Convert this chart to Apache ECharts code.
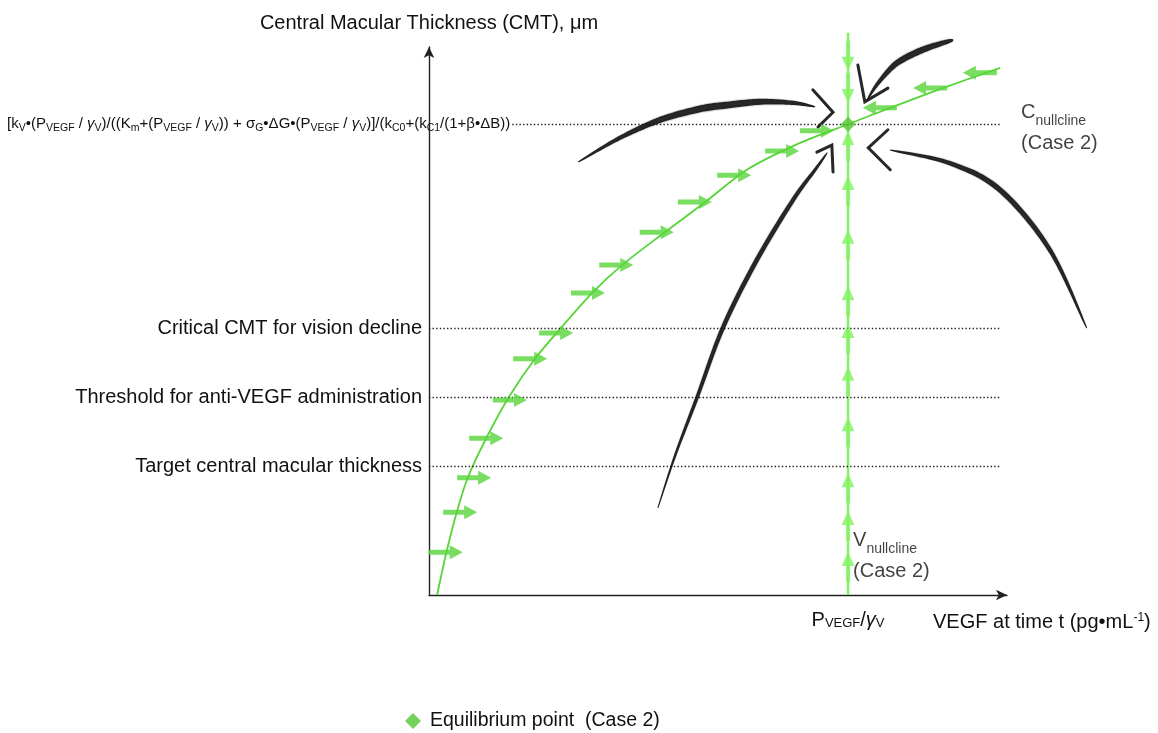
<!DOCTYPE html>
<html>
<head>
<meta charset="utf-8">
<script src="https://cdn.jsdelivr.net/npm/echarts@6/dist/echarts.min.js"></script>
<style>
  html, body { margin: 0; padding: 0; background: #ffffff; }
  #chart { width: 1158px; height: 733px; }
</style>
</head>
<body>
<div id="chart"></div>
<script>
// Phase plane of central macular thickness against VEGF level (case 2):
// the C-nullcline, the V-nullcline, their equilibrium and the flow around it.

// Equilibrium point (VEGF, CMT) in plot units
const equilibrium = [72.5, 85.9];

// Clinical CMT reference levels
const levelNames = [
  'Target central macular thickness',
  'Threshold for anti-VEGF administration',
  'Critical CMT for vision decline'
];
const levelValues = [23.5, 36.1, 48.7];
const formulaLineStartX = 14.4;
const dottedLineEndX = 98.8;

// C-nullcline curve
const cNullclineX = [1.4, 3.0, 4.8, 6.7, 9.9, 13.8, 18.4, 22.8, 28.2, 33.4, 40.8, 47.8, 55.0, 64.2, 72.5, 79.8, 88.9, 98.8];
const cNullclineY = [0.0, 7.7, 15.1, 21.4, 28.6, 36.1, 43.2, 48.7, 55.1, 60.2, 66.2, 71.7, 77.6, 82.5, 85.9, 88.9, 92.5, 96.2];

// V-nullcline (vertical line at the equilibrium VEGF level)
const vNullclineY = [0, 102.6];

// Flow arrows along the C-nullcline
const rightArrowX = [2.9, 5.4, 7.8, 9.9, 14.0, 17.5, 22.0, 27.5, 32.4, 39.4, 46.0, 52.8, 61.1, 67.1];
const rightArrowY = [7.8, 15.1, 21.4, 28.6, 35.6, 43.1, 47.8, 55.1, 60.2, 66.2, 71.7, 76.6, 81.0, 84.7];
const leftArrowX = [78.0, 86.7, 95.3];
const leftArrowY = [88.9, 92.5, 95.3];

// Flow arrows along the V-nullcline
const downArrowY = [98.4, 92.5];
const upArrowY = [81.9, 73.7, 63.9, 53.6, 46.7, 38.9, 29.7, 19.5, 12.6, 5.1];

// Trajectories converging on the equilibrium
const trajUpperLeft = [[25.8, 79.0], [33.0, 83.4], [40.0, 86.7], [46.9, 88.7], [51.6, 89.4], [57.3, 90.0], [63.0, 89.8], [66.8, 89.1]];
const headUpperLeft = [[66.4, 92.2], [69.9, 88.1], [67.3, 85.4]];
const trajTopRight = [[90.7, 101.3], [86.7, 100.0], [83.7, 98.7], [81.0, 97.1], [79.2, 95.3], [77.2, 92.7], [75.8, 90.3]];
const headTopRight = [[74.2, 96.7], [75.4, 90.0], [79.4, 92.5]];
const trajRight = [[113.8, 48.7], [107.4, 63.0], [98.8, 73.9], [90.1, 78.8], [79.8, 81.2]];
const headRight = [[79.4, 84.9], [76.0, 81.6], [79.8, 77.6]];
const trajLower = [[39.6, 15.9], [42.6, 25.5], [46.4, 36.1], [50.9, 48.9], [56.7, 61.1], [63.0, 72.1], [66.8, 77.6], [68.9, 80.7]];
const headLower = [[67.1, 80.8], [69.7, 82.1], [69.9, 77.2]];

// Label anchors for the nullcline names
const vLabelAnchor = [equilibrium[0], 7.1];
const cLabelAnchor = [dottedLineEndX, 85.2];

const EQ_NAME = 'Equilibrium point  (Case 2)';
const FONT = "'Liberation Sans', Arial, Helvetica, sans-serif";
const CURVE_GREEN = '#56d438';
const V_GREEN = '#80f25e';
const INK = '#111111';

const arrowPath = 'path://M0,4.5L21,4.5L21,0L34,7L21,14L21,9.5L0,9.5Z';
const shortArrowPath = 'path://M0,4.5L16,4.5L16,0L30,6.5L16,13L16,8.5L0,8.5Z';

const zip = (xs, ys) => xs.map((x, i) => [x, ys[i]]);

const formulaText =
  '[k{s|V}•(P{s|VEGF} / {g|γ}{s|V})/((K{s|m}+(P{s|VEGF} / {g|γ}{s|V})) + σ{s|G}•ΔG•(P{s|VEGF} / {g|γ}{s|V})]/(k{s|C0}+(k{s|C1}/(1+β•ΔB))';

// Catmull-Rom sampling of pixel points for a smooth brush path
function sampleSmooth(pts, steps) {
  const out = [];
  for (let i = 0; i < pts.length - 1; i++) {
    const p0 = pts[Math.max(i - 1, 0)], p1 = pts[i], p2 = pts[i + 1], p3 = pts[Math.min(i + 2, pts.length - 1)];
    for (let k = 0; k < steps; k++) {
      const t = k / steps, t2 = t * t, t3 = t2 * t;
      const f = (a, b, c, d) => 0.5 * ((2 * b) + (-a + c) * t + (2 * a - 5 * b + 4 * c - d) * t2 + (-a + 3 * b - 3 * c + d) * t3);
      out.push([f(p0[0], p1[0], p2[0], p3[0]), f(p0[1], p1[1], p2[1], p3[1])]);
    }
  }
  out.push(pts[pts.length - 1]);
  return out;
}

// Tapered brush stroke: a filled band whose width swells along the path,
// plus a few thin offset bristle lines for a sketched texture.
function brushSeries(points, maxWidth, skew) {
  return {
    type: 'custom', coordinateSystem: 'cartesian2d', clip: false, silent: true, z: 5,
    data: [points[0]],
    renderItem: (params, api) => {
      const px = points.map(p => api.coord(p));
      const s = sampleSmooth(px, 16);
      const n = s.length;
      const left = [], right = [], normals = [];
      for (let i = 0; i < n; i++) {
        const a = s[Math.max(i - 1, 0)], b = s[Math.min(i + 1, n - 1)];
        const dx = b[0] - a[0], dy = b[1] - a[1];
        const len = Math.hypot(dx, dy) || 1;
        const nx = -dy / len, ny = dx / len;
        normals.push([nx, ny]);
        const t = i / (n - 1);
        const tt = Math.pow(t, skew);
        const w = 0.6 + (maxWidth - 0.6) * Math.pow(Math.sin(Math.PI * tt), 0.7);
        left.push([s[i][0] + nx * w / 2, s[i][1] + ny * w / 2]);
        right.push([s[i][0] - nx * w / 2, s[i][1] - ny * w / 2]);
      }
      const children = [{
        type: 'polygon', shape: { points: left.concat(right.reverse()) },
        style: { fill: INK, opacity: 0.9 }
      }];
      const bristles = [[1.2, 0.35], [-1.3, 0.3], [2.4, 0.18], [-2.3, 0.2]];
      bristles.forEach(([off, op]) => {
        const line = s.map((p, i) => {
          const t = i / (n - 1);
          const scale = Math.pow(Math.sin(Math.PI * Math.pow(t, skew)), 0.7);
          return [p[0] + normals[i][0] * off * scale * maxWidth / 4, p[1] + normals[i][1] * off * scale * maxWidth / 4];
        });
        children.push({
          type: 'polyline', shape: { points: line },
          style: { stroke: INK, lineWidth: 0.8, opacity: op, fill: null }
        });
      });
      return { type: 'group', children };
    }
  };
}
function headSeries(points) {
  return {
    type: 'line', data: points, symbol: 'none', clip: false, silent: true, z: 5,
    lineStyle: { color: INK, width: 3, cap: 'round', join: 'miter', opacity: 0.9 }
  };
}

const levelMarks = levelValues.map((v, i) => [
  { coord: [0, v], label: { formatter: levelNames[i] } },
  { coord: [dottedLineEndX, v] }
]);
levelMarks.push([
  { coord: [formulaLineStartX, equilibrium[1]],
    label: {
      formatter: formulaText, fontSize: 15, distance: 2, lineHeight: 19,
      rich: {
        s: { fontSize: 10.5, lineHeight: 15, verticalAlign: 'bottom', color: INK, fontFamily: FONT },
        g: { fontSize: 15, fontStyle: 'italic', color: INK, fontFamily: FONT }
      }
    } },
  { coord: [dottedLineEndX, equilibrium[1]] }
]);

const chart = echarts.init(document.getElementById('chart'), null, { renderer: 'canvas' });

chart.setOption({
  animation: false,
  backgroundColor: '#ffffff',
  textStyle: { fontFamily: FONT, color: INK },
  grid: { left: 429, right: 151, top: 47, bottom: 138, containLabel: false },
  legend: {
    data: [{ name: EQ_NAME, icon: 'diamond' }],
    left: 400, top: 706, itemWidth: 16, itemHeight: 16, itemGap: 10,
    textStyle: { fontSize: 19.5, color: INK, fontFamily: FONT, padding: [0, 0, 0, 4] },
    selectedMode: false
  },
  xAxis: {
    type: 'value', min: 0, max: 100,
    name: 'VEGF at time t (pg•mL{sup|-1})',
    nameLocation: 'end', nameGap: -74,
    nameTextStyle: {
      fontSize: 20, color: INK, fontFamily: FONT, align: 'left', verticalAlign: 'top',
      padding: [17, 0, 0, 0],
      rich: { sup: { fontSize: 12, verticalAlign: 'top', lineHeight: 14, color: INK, fontFamily: FONT } }
    },
    axisLine: { show: true, onZero: false, symbol: ['none', 'arrow'], symbolSize: [8, 11],
                lineStyle: { color: '#222', width: 1.4 } },
    axisTick: { show: false },
    splitLine: { show: false },
    axisLabel: {
      customValues: [equilibrium[0]],
      margin: 15, fontSize: 20, color: INK, fontFamily: FONT,
      formatter: () => 'P{s|VEGF}/{g|γ}{s|V}',
      rich: {
        s: { fontSize: 13, lineHeight: 18, verticalAlign: 'bottom', color: INK, fontFamily: FONT },
        g: { fontSize: 20, fontStyle: 'italic', color: INK, fontFamily: FONT }
      }
    }
  },
  yAxis: {
    type: 'value', min: 0, max: 100,
    name: 'Central Macular Thickness (CMT), μm',
    nameLocation: 'end', nameGap: 14,
    nameTextStyle: { fontSize: 20, color: INK, fontFamily: FONT },
    axisLine: { show: true, onZero: false, symbol: ['none', 'arrow'], symbolSize: [8, 11],
                lineStyle: { color: '#222', width: 1.4 } },
    axisTick: { show: false },
    splitLine: { show: false },
    axisLabel: { show: false }
  },
  series: [
    // Dotted reference levels and the C-nullcline itself
    {
      name: 'C nullcline', type: 'line', data: zip(cNullclineX, cNullclineY),
      smooth: 0.3, symbol: 'none', clip: false, z: 3,
      lineStyle: { color: CURVE_GREEN, width: 1.8 },
      markLine: {
        silent: true, symbol: ['none', 'none'], animation: false,
        lineStyle: { color: '#222', type: [1.4, 2.2], width: 1.3 },
        label: { show: true, position: 'start', distance: 7, fontSize: 20, color: INK, fontFamily: FONT },
        emphasis: { disabled: true },
        data: levelMarks
      }
    },
    // V-nullcline
    {
      name: 'V nullcline', type: 'line',
      data: vNullclineY.map(y => [equilibrium[0], y]),
      symbol: 'none', clip: false, z: 3,
      lineStyle: { color: V_GREEN, width: 2.4 }
    },
    // Arrows along the C-nullcline
    {
      type: 'scatter', data: zip(rightArrowX, rightArrowY), symbol: arrowPath,
      symbolSize: [34, 14], itemStyle: { color: CURVE_GREEN }, z: 6, silent: true, clip: false
    },
    {
      type: 'scatter', data: zip(leftArrowX, leftArrowY), symbol: arrowPath,
      symbolSize: [34, 14], symbolRotate: 180, itemStyle: { color: CURVE_GREEN }, z: 6, silent: true, clip: false
    },
    // Arrows along the V-nullcline
    {
      type: 'scatter', data: upArrowY.map(y => [equilibrium[0], y]), symbol: shortArrowPath,
      symbolSize: [30, 13], symbolRotate: 90, itemStyle: { color: V_GREEN }, z: 6, silent: true, clip: false
    },
    {
      type: 'scatter', data: downArrowY.map(y => [equilibrium[0], y]), symbol: shortArrowPath,
      symbolSize: [30, 13], symbolRotate: -90, itemStyle: { color: V_GREEN }, z: 6, silent: true, clip: false
    },
    // Trajectories
    brushSeries(trajUpperLeft, 7, 1.0), headSeries(headUpperLeft),
    brushSeries(trajTopRight, 6.5, 0.6), headSeries(headTopRight),
    brushSeries(trajRight, 5.5, 1.0), headSeries(headRight),
    brushSeries(trajLower, 4.6, 1.2), headSeries(headLower),
    // Equilibrium point
    {
      name: EQ_NAME, type: 'scatter', data: [equilibrium], symbol: 'diamond', symbolSize: 15,
      itemStyle: { color: '#52c634' }, z: 10, clip: false
    },
    // Nullcline names
    {
      type: 'scatter', symbolSize: 0, silent: true, clip: false, z: 7,
      data: [
        { value: vLabelAnchor, label: { formatter: '{b|V}{s|nullcline}\n{b|(Case 2)}', distance: 5 } },
        { value: cLabelAnchor, label: { formatter: '{b|C}{s|nullcline}\n{b|(Case 2)}', distance: 21 } }
      ],
      label: {
        show: true, position: 'right', color: INK, fontFamily: FONT,
        rich: {
          b: { fontSize: 20, lineHeight: 31, color: INK, fontFamily: FONT },
          s: { fontSize: 14, lineHeight: 24, verticalAlign: 'bottom', color: INK, fontFamily: FONT }
        }
      }
    }
  ]
});
</script>
</body>
</html>
